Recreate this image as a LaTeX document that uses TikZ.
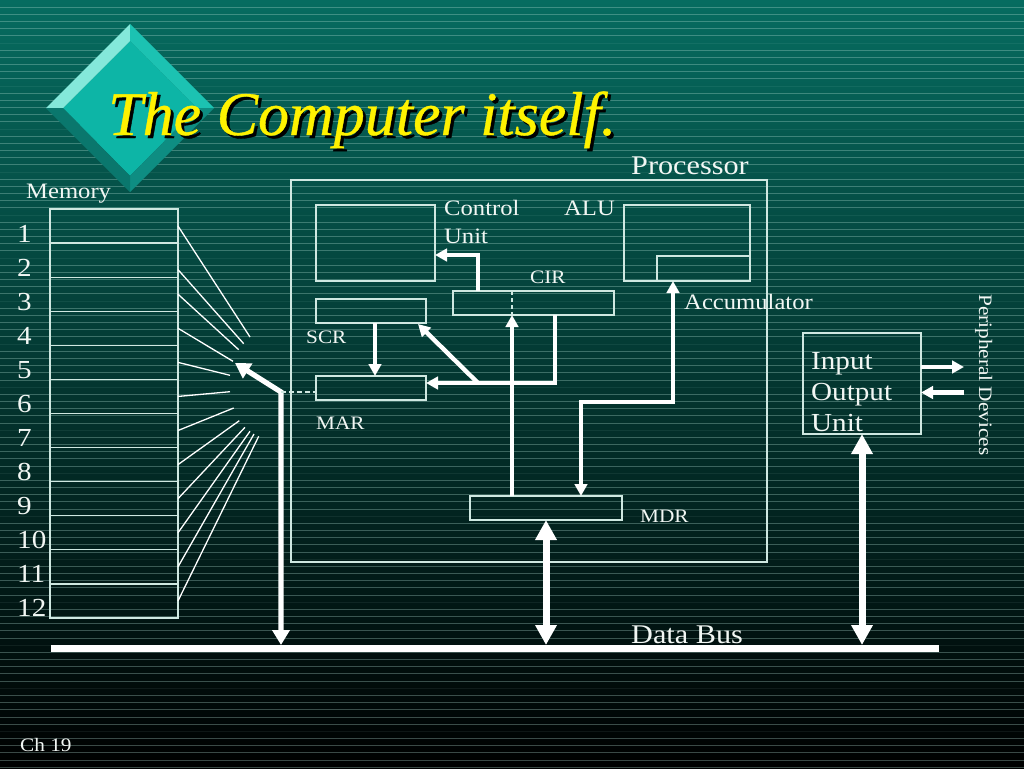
\documentclass[tikz,border=0pt]{standalone}
\usepackage{fontspec}
\setmainfont{Liberation Serif}[FakeStretch=1.12]
\newfontfamily\titlefont{Liberation Serif}[FakeBold=0.6]
\usepackage{xcolor}
\usetikzlibrary{arrows.meta}

\definecolor{slidetop}{HTML}{066C60}
\definecolor{slidemid}{HTML}{053F39}
\definecolor{stripe}{HTML}{B5E0D6}
\definecolor{inkwhite}{HTML}{F2F7F4}
\definecolor{boxline}{HTML}{CFE8E1}
\definecolor{gemface}{HTML}{0DB5A6}
\definecolor{gemlight}{HTML}{84E8DA}
\definecolor{gemupper}{HTML}{1CC2B2}
\definecolor{gemlower}{HTML}{0E8D82}
\definecolor{gemdark}{HTML}{0A776D}

\tikzset{
    label19/.style={anchor=base west, inner sep=0pt, text=inkwhite, font=\fontsize{19}{22}\selectfont},
    label22/.style={anchor=base west, inner sep=0pt, text=inkwhite, font=\fontsize{22}{28}\selectfont},
    label26/.style={anchor=base west, inner sep=0pt, text=inkwhite, font=\fontsize{26}{31}\selectfont},
    label27/.style={anchor=base west, inner sep=0pt, text=inkwhite, font=\fontsize{27}{31}\selectfont},
    regbox/.style={draw=boxline, line width=1.3pt, inner sep=0pt, outer sep=0pt},
    smallflow/.style={white, line width=4.4pt, -{Triangle[length=12pt, width=12.5pt]}},
    smallboth/.style={white, line width=4.4pt, {Triangle[length=12pt, width=12.5pt]}-{Triangle[length=12pt, width=12.5pt]}},
    busflow/.style={white, line width=7pt, {Triangle[length=20pt, width=20.5pt]}-{Triangle[length=20pt, width=20.5pt]}},
    addrflow/.style={white, line width=5.2pt, {Triangle[length=15pt, width=17pt]}-{Triangle[length=15pt, width=17pt]}},
    fanline/.style={white, line width=1.3pt}
}

\begin{document}
\begin{tikzpicture}[x=1pt, y=-1pt]
    \useasboundingbox (0,0) rectangle (1024,768);

    % Background
    \shade[top color=slidetop, middle color=slidemid, bottom color=black] (0,0) rectangle (1024,768);
    \foreach \i [evaluate=\i as \o using {mod(\i,6)==0 ? 0.08 : 0.32}] in {1,...,107} {
        \draw[stripe, line width=1pt, opacity=\o] (0,{7.17*\i}) -- (1024,{7.17*\i});
    }

    % Diamond
    \fill[gemface] (130,41) -- (197,108) -- (130,176) -- (63,108) -- cycle;
    \fill[gemlight] (46,108) -- (130,24) -- (130,41) -- (63,108) -- cycle;
    \fill[gemupper] (130,24) -- (214,108) -- (197,108) -- (130,41) -- cycle;
    \fill[gemlower] (214,108) -- (130,192) -- (130,176) -- (197,108) -- cycle;
    \fill[gemdark] (130,192) -- (46,108) -- (63,108) -- (130,176) -- cycle;

    % Title
    \node[anchor=base west, inner sep=0pt, text=black, font=\fontsize{62}{70}\selectfont\titlefont\itshape] (titleshadow) at (111,138) {The Computer itself.};
    \node[anchor=base west, inner sep=0pt, text=yellow, font=\fontsize{62}{70}\selectfont\titlefont\itshape] (title) at (108,135) {The Computer itself.};

    % Memory
    \node[label22] (memlabel) at (26,198) {Memory};
    \foreach \i in {1,...,12} {
        \node[regbox, anchor=north west, minimum width=128pt, minimum height=34.08pt] (mem\i) at (50,{209+34.08*(\i-1)}) {};
        \node[label26] (num\i) at (17,{242+34.08*(\i-1)}) {\i};
    }

    % Fan of address lines
    \foreach \i/\dy/\ex/\ey in {1/0/250/337, 2/-9.5/243.7/343.7, 3/0/238.7/349.7, 4/0/233/361.3, 5/0/230/375.3, 6/0/230/391.7,
                                7/0/233.7/408, 8/0/239.3/420.7, 9/0/245/427.3, 10/0/250/431.3, 11/0/254/434, 12/0/258.7/436.3} {
        \coordinate (fan\i) at (\ex,\ey);
        \draw[fanline] ([yshift=\dy pt]mem\i.east) -- (fan\i);
    }

    % Processor
    \node[regbox, anchor=north west, minimum width=476pt, minimum height=382pt] (processor) at (291,180) {};
    \node[label27] (proclabel) at (631,174) {Processor};

    \node[regbox, anchor=north west, minimum width=119pt, minimum height=76pt] (control) at (316,205) {};
    \node[label22, align=left] (controllabel) at (444,243) {Control\\Unit};
    \node[regbox, anchor=north west, minimum width=126pt, minimum height=76pt] (alu) at (624,205) {};
    \node[label22] (alulabel) at (564,215) {ALU};
    \node[regbox, anchor=south east, minimum width=93pt, minimum height=25pt] (acc) at (alu.south east) {};
    \node[label22] (acclabel) at (684,309) {Accumulator};

    \node[regbox, anchor=north west, minimum width=161pt, minimum height=24pt] (cir) at (453,291) {};
    \node[label19] (cirlabel) at (530,283) {CIR};
    \node[regbox, anchor=north west, minimum width=110pt, minimum height=24pt] (scr) at (316,299) {};
    \node[label19] (scrlabel) at (306,343) {SCR};
    \node[regbox, anchor=north west, minimum width=110pt, minimum height=24pt] (mar) at (316,376) {};
    \node[label19] (marlabel) at (316,429) {MAR};
    \node[regbox, anchor=north west, minimum width=152pt, minimum height=24pt] (mdr) at (470,496) {};
    \node[label19] (mdrlabel) at (640,522) {MDR};

    % Input Output Unit
    \node[regbox, anchor=north west, minimum width=118pt, minimum height=101pt] (io) at (803,333) {};
    \node[label26, align=left] (iolabel) at (811,431) {Input\\Output\\Unit};
    \node[label19, rotate=-90] (periphlabel) at (979,294) {Peripheral Devices};

    % Data Bus
    \node[fill=white, inner sep=0pt, anchor=north west, minimum width=888pt, minimum height=7pt] (bus) at (51,645) {};
    \node[label27] (buslabel) at (631,643) {Data Bus};
    \node[label19] (chapter) at (20,751) {Ch 19};

    % Flows inside the processor
    \coordinate (cirout) at (478,291);
    \coordinate (cirsplit) at (512,315);
    \coordinate (cirtop) at (512,291);
    \coordinate (cirdown) at (555,315);
    \coordinate (branch) at (478,383);
    \coordinate (scrin) at (418,324);
    \coordinate (scrout) at (375,323);
    \coordinate (mdrin) at (581,496);
    \coordinate (accin) at (673,281);
    \draw[smallflow] (cirout) |- ([yshift=-12pt]control.east);
    \draw[smallflow] (cirsplit |- mdr.north) -- (cirsplit);
    \draw[boxline, line width=1.3pt, dash pattern=on 4pt off 3pt] (cirtop) -- (cirsplit);
    \draw[smallflow] (cirdown) |- ([yshift=5pt]mar.east);
    \draw[smallflow] (branch) -- (scrin);
    \draw[smallflow] (scrout) -- (scrout |- mar.north);
    \draw[smallboth] (mdrin) -- ++(0,-94) -| (accin);

    % Flows to the bus
    \coordinate (addrtip) at (235,363);
    \coordinate (addrbend) at (281,392);
    \draw[addrflow] (addrtip) -- (addrbend) -- (addrbend |- bus.north);
    \draw[boxline, line width=1.3pt, dash pattern=on 5pt off 3pt] (addrbend) -- ([yshift=-4pt]mar.west);
    \draw[busflow] (mdr.south) -- (mdr.south |- bus.north);
    \draw[busflow] (io.south) -- (io.south |- bus.north);

    % Peripheral arrows
    \coordinate (periphout) at (964,367);
    \coordinate (periphin) at (964,392.5);
    \draw[smallflow] (io.east |- periphout) -- (periphout);
    \draw[smallflow] (periphin) -- (io.east |- periphin);
\end{tikzpicture}
\end{document}
